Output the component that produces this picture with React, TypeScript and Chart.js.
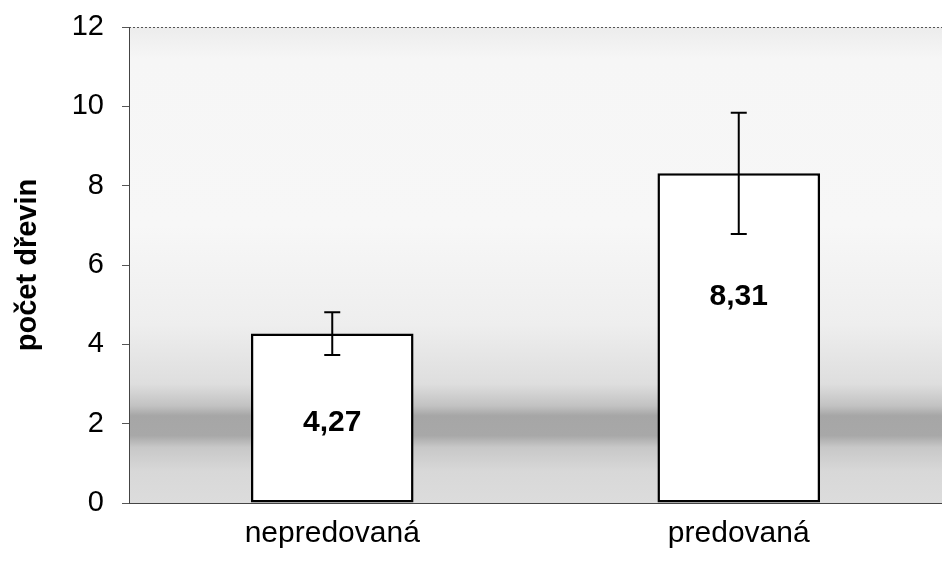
import React, { useEffect, useRef } from "react";
import { Chart, registerables } from "chart.js";

Chart.register(...registerables);

const categories = ["nepredovaná", "predovaná"];
const means = [4.27, 8.31];
const errors = [0.54, 1.53];
const valueLabels = ["4,27", "8,31"];
const yTickLabels = [0, 2, 4, 6, 8, 10, 12];

const FONT = "'Liberation Sans', Arial, Helvetica, sans-serif";
// vertical anchor of each value label inside its bar (fraction of bar height)
const LABEL_FRACTIONS = [0.475, 0.625];

const backgroundPlugin = {
  id: "bgTexture",
  beforeDraw(chart: any) {
    const { ctx, chartArea } = chart;
    const { left, right, top, bottom } = chartArea;
    const y = chart.scales.y;
    const g = ctx.createLinearGradient(0, top, 0, bottom);
    const stop = (v: number) => Math.min(1, Math.max(0, (y.getPixelForValue(v) - top) / (bottom - top)));
    g.addColorStop(stop(12), "#ececec");
    g.addColorStop(stop(11.2), "#f6f6f6");
    g.addColorStop(stop(7), "#f7f7f7");
    g.addColorStop(stop(4.5), "#eeeeee");
    g.addColorStop(stop(3.0), "#dedede");
    g.addColorStop(stop(2.45), "#c2c2c2");
    g.addColorStop(stop(2.2), "#a6a6a6");
    g.addColorStop(stop(1.7), "#a8a8a8");
    g.addColorStop(stop(1.4), "#c8c8c8");
    g.addColorStop(stop(0.8), "#d8d8d8");
    g.addColorStop(stop(0), "#dcdcdc");
    ctx.save();
    ctx.fillStyle = g;
    ctx.fillRect(left, top, right - left, bottom - top);
    ctx.strokeStyle = "#555";
    ctx.lineWidth = 1;
    ctx.setLineDash([2, 2]);
    ctx.beginPath();
    ctx.moveTo(left, top + 0.5);
    ctx.lineTo(right, top + 0.5);
    ctx.stroke();
    ctx.restore();
  },
};

const errorBarPlugin = {
  id: "errorBarsAndLabels",
  afterDatasetsDraw(chart: any) {
    const { ctx } = chart;
    const meta = chart.getDatasetMeta(0);
    const y = chart.scales.y;
    ctx.save();
    meta.data.forEach((bar: any, i: number) => {
      const x = bar.x;
      const yHi = y.getPixelForValue(means[i] + errors[i]);
      const yLo = y.getPixelForValue(means[i] - errors[i]);
      ctx.strokeStyle = "#000";
      ctx.lineWidth = 2;
      ctx.setLineDash([]);
      ctx.beginPath();
      ctx.moveTo(x, yHi);
      ctx.lineTo(x, yLo);
      ctx.moveTo(x - 8, yHi);
      ctx.lineTo(x + 8, yHi);
      ctx.moveTo(x - 8, yLo);
      ctx.lineTo(x + 8, yLo);
      ctx.stroke();
      ctx.fillStyle = "#000";
      ctx.font = `bold 30px ${FONT}`;
      ctx.textAlign = "center";
      ctx.textBaseline = "middle";
      const cy = y.getPixelForValue(means[i] * LABEL_FRACTIONS[i]);
      ctx.fillText(valueLabels[i], x, cy);
    });
    ctx.restore();
  },
};

export default function App() {
  const ref = useRef<HTMLCanvasElement | null>(null);
  useEffect(() => {
    document.body.style.margin = "0";
    document.body.style.overflow = "hidden";
    const canvas = ref.current!;
    const chart = new Chart(canvas, {
      type: "bar",
      data: {
        labels: categories,
        datasets: [
          {
            data: means,
            backgroundColor: "#ffffff",
            borderColor: "#000000",
            borderWidth: 2.5,
            borderSkipped: false,
            categoryPercentage: 1,
            barPercentage: 0.4,
          },
        ],
      },
      options: {
        responsive: false,
        animation: false,
        devicePixelRatio: 1,
        layout: { padding: { top: 27, right: 0, left: 0, bottom: 0 } },
        plugins: { legend: { display: false }, tooltip: { enabled: false } },
        scales: {
          x: {
            grid: { display: false, drawTicks: false },
            border: { display: true, color: "#444", width: 1, dash: [2, 2] },
            ticks: { color: "#000", font: { size: 30, family: FONT }, padding: 13 },
            afterFit: (s: any) => {
              s.height = 62;
              s.paddingLeft = 0;
              s.paddingRight = 0;
            },
          },
          y: {
            min: 0,
            max: 12,
            afterBuildTicks: (s: any) => {
              s.ticks = yTickLabels.map((v) => ({ value: v }));
            },
            grid: { drawOnChartArea: false, drawTicks: true, tickLength: 7, color: "#555" },
            border: { display: true, color: "#444", width: 1, dash: [2, 2] },
            ticks: { color: "#000", font: { size: 29, family: FONT }, padding: 18 },
            title: {
              display: true,
              text: "počet dřevin",
              color: "#000",
              font: { size: 29, weight: "bold", family: FONT },
              padding: { top: 11, bottom: 0 },
            },
            afterFit: (s: any) => {
              s.width = 129;
              s.paddingTop = 0;
              s.paddingBottom = 0;
            },
          },
        },
      },
      plugins: [backgroundPlugin, errorBarPlugin],
    });
    return () => chart.destroy();
  }, []);
  return <canvas ref={ref} width={942} height={565} style={{ display: "block" }} />;
}
